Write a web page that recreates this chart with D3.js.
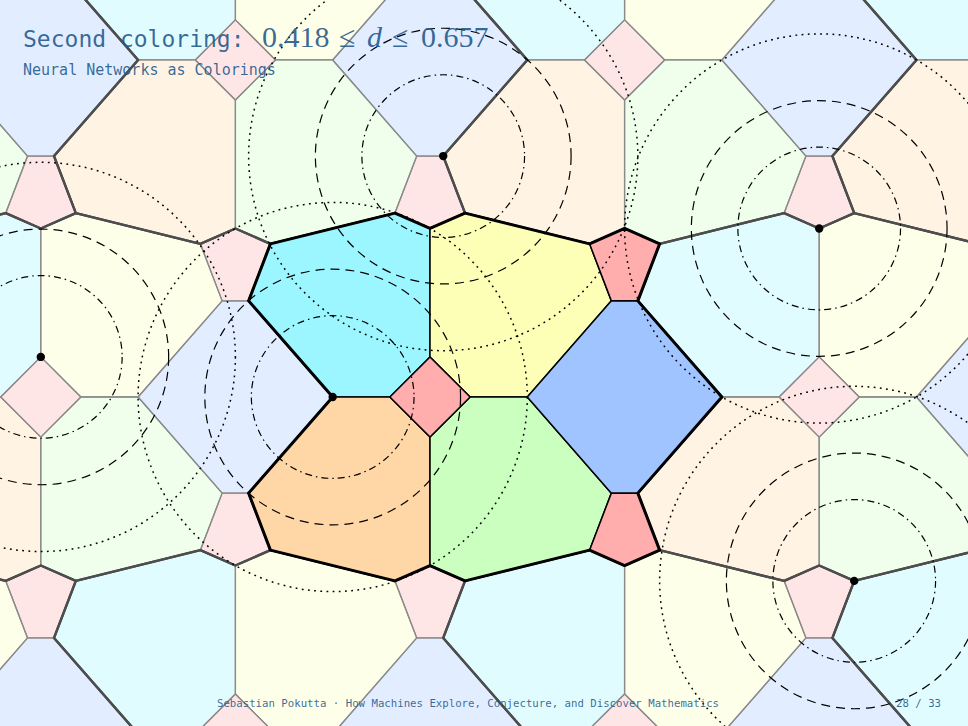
<!DOCTYPE html>
<html>
<head>
<meta charset="utf-8">
<script src="https://cdn.jsdelivr.net/npm/d3@7/dist/d3.min.js"></script>
<style>
  html, body { margin: 0; padding: 0; background: #fff; }
  svg { display: block; }
</style>
</head>
<body>
<div id="chart"></div>
<script>
(function () {
  'use strict';

  // one tile of the periodic colouring, in units (y up), square centred at origin
  const CELL_NAMES  = ['cyan', 'yellow', 'orange', 'green', 'blue', 'square', 'pentTop', 'pentBot'];
  const CELL_COLORS = ['#9BF6FF', '#FDFFB6', '#FFD6A5', '#CAFFBF', '#A0C4FF', '#FFADAD', '#FFADAD', '#FFADAD'];
  const CYAN    = [[-0.82, 0.787], [-0.18, 0.945], [0, 0.866], [0, 0.206], [-0.206, 0], [-0.5, 0], [-0.932, 0.494]];
  const YELLOW  = [[0, 0.866], [0.18, 0.945], [0.82, 0.787], [0.932, 0.494], [0.5, 0], [0.206, 0], [0, 0.206]];
  const ORANGE  = [[-0.5, 0], [-0.206, 0], [0, -0.206], [0, -0.866], [-0.18, -0.945], [-0.82, -0.787], [-0.932, -0.494]];
  const GREEN   = [[0.206, 0], [0.5, 0], [0.932, -0.494], [0.82, -0.787], [0.18, -0.945], [0, -0.866], [0, -0.206]];
  const BLUE    = [[0.5, 0], [0.932, 0.494], [1.068, 0.494], [1.5, 0], [1.068, -0.494], [0.932, -0.494]];
  const SQUARE  = [[0, 0.206], [0.206, 0], [0, -0.206], [-0.206, 0]];
  const PENT_TOP = [[0.82, 0.787], [1.0, 0.866], [1.18, 0.787], [1.068, 0.494], [0.932, 0.494]];
  const PENT_BOT = [[0.932, -0.494], [1.068, -0.494], [1.18, -0.787], [1.0, -0.866], [0.82, -0.787]];
  const CELLS = [CYAN, YELLOW, ORANGE, GREEN, BLUE, SQUARE, PENT_TOP, PENT_BOT];

  // outer boundary of the tile (drawn heavier)
  const BOUNDARY = [[-0.82, 0.787], [-0.18, 0.945], [0, 0.866], [0.18, 0.945], [0.82, 0.787], [1.0, 0.866],
    [1.18, 0.787], [1.068, 0.494], [1.5, 0], [1.068, -0.494], [1.18, -0.787], [1.0, -0.866], [0.82, -0.787],
    [0.18, -0.945], [0, -0.866], [-0.18, -0.945], [-0.82, -0.787], [-0.932, -0.494], [-0.5, 0], [-0.932, 0.494]];

  // triangular lattice of translates
  const LATTICE_A = [2, 0];
  const LATTICE_B = [1, 1.732];
  const LATTICE_I = [-3, -2, -1, 0, 1, 2, 3];
  const LATTICE_J = [-2, -1, 0, 1, 2];

  // sample points with forbidden-distance rings
  const DOTS  = [[-0.5, 0], [0.068, 1.238], [-2, 0.206], [2, 0.866], [2.18, -0.945]];
  const RINGS = [0.418, 0.657, 1.0];
  const RING_DASH = ['7,4,1.5,4', '9,6', '1.8,4.4'];
  const RING_WIDTH = [1.2, 1.2, 1.5];

  const TITLE = 'Second coloring:';
  const SUBTITLE = 'Neural Networks as Colorings';
  const FOOTER = 'Sebastian Pokutta \u00b7 How Machines Explore, Conjecture, and Discover Mathematics';
  const PAGE = '28 / 33';

  const W = 968, H = 726;
  const U = 194.6;
  const x = d3.scaleLinear().domain([0, 1]).range([430, 430 + U]);
  const y = d3.scaleLinear().domain([0, 1]).range([397, 397 - U]);

  const svg = d3.select('#chart').append('svg').attr('width', W).attr('height', H);
  svg.append('rect').attr('width', W).attr('height', H).attr('fill', '#fff');

  const line = d3.line().x(d => x(d[0])).y(d => y(d[1]));
  const closed = pts => line(pts) + 'Z';

  const offsets = [];
  LATTICE_J.forEach(j => LATTICE_I.forEach(i => {
    if (i === 0 && j === 0) return;
    offsets.push([i * LATTICE_A[0] + j * LATTICE_B[0], i * LATTICE_A[1] + j * LATTICE_B[1]]);
  }));
  const shift = (pts, o) => pts.map(p => [p[0] + o[0], p[1] + o[1]]);

  // faded copies
  const copies = svg.append('g');
  offsets.forEach(o => {
    CELLS.forEach((c, k) => {
      copies.append('path').attr('d', closed(shift(c, o)))
        .attr('fill', CELL_COLORS[k]).attr('fill-opacity', 0.3)
        .attr('stroke', '#8a8a8a').attr('stroke-width', 1.3).attr('stroke-linejoin', 'round');
    });
  });
  offsets.forEach(o => {
    copies.append('path').attr('d', closed(shift(BOUNDARY, o)))
      .attr('fill', 'none').attr('stroke', '#4d4d4d').attr('stroke-width', 2.4).attr('stroke-linejoin', 'round');
  });

  // the highlighted tile
  const main = svg.append('g');
  CELLS.forEach((c, k) => {
    main.append('path').attr('d', closed(c)).attr('class', CELL_NAMES[k])
      .attr('fill', CELL_COLORS[k])
      .attr('stroke', '#000').attr('stroke-width', 1.5).attr('stroke-linejoin', 'round');
  });
  main.append('path').attr('d', closed(BOUNDARY))
    .attr('fill', 'none').attr('stroke', '#000').attr('stroke-width', 3).attr('stroke-linejoin', 'round');

  // distance rings
  const rings = svg.append('g').attr('fill', 'none').attr('stroke', '#000');
  DOTS.forEach(d => {
    RINGS.forEach((r, k) => {
      rings.append('circle').attr('cx', x(d[0])).attr('cy', y(d[1]))
        .attr('r', x(r) - x(0)).attr('stroke-dasharray', RING_DASH[k]).attr('stroke-width', RING_WIDTH[k]);
    });
  });
  svg.append('g').selectAll('circle').data(DOTS).join('circle')
    .attr('cx', d => x(d[0])).attr('cy', d => y(d[1])).attr('r', 4.2).attr('fill', '#000');

  // text
  const ink = '#1d578a';
  const t = svg.append('g').attr('fill', ink).attr('fill-opacity', 0.88);
  t.append('text').attr('x', 23).attr('y', 47)
    .style('font-family', 'DejaVu Sans Mono, monospace').style('font-size', '23px').text(TITLE);
  const math = t.append('text').attr('y', 47)
    .style('font-family', 'Liberation Serif, serif').style('font-size', '30px');
  math.append('tspan').attr('x', 262).text('0.418');
  math.append('tspan').attr('x', 339).text('\u2264');
  math.append('tspan').attr('x', 367).style('font-style', 'italic').text('d');
  math.append('tspan').attr('x', 392).text('\u2264');
  math.append('tspan').attr('x', 421).text('0.657');
  t.append('text').attr('x', 23).attr('y', 75)
    .style('font-family', 'DejaVu Sans Mono, monospace').style('font-size', '15px').text(SUBTITLE);
  t.append('text').attr('x', 217).attr('y', 707).attr('textLength', 502)
    .style('font-family', 'DejaVu Sans Mono, monospace').style('font-size', '10.7px').text(FOOTER);
  t.append('text').attr('x', 941).attr('y', 707).attr('text-anchor', 'end')
    .style('font-family', 'DejaVu Sans Mono, monospace').style('font-size', '10.7px').text(PAGE);
})();
</script>
</body>
</html>
